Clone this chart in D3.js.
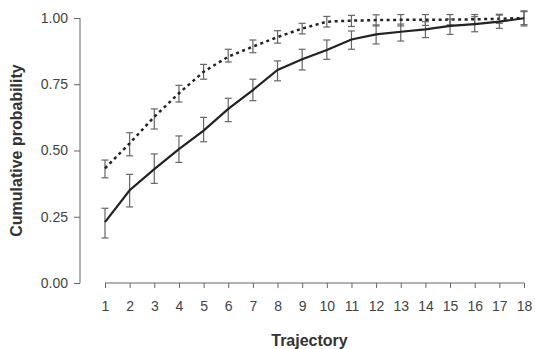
<!DOCTYPE html>
<html>
<head>
<meta charset="utf-8">
<script src="https://cdn.jsdelivr.net/npm/d3@7"></script>
<style>
  body { margin: 0; background: #fff; }
  svg { display: block; font-family: Arial, "Liberation Sans", sans-serif; }
</style>
</head>
<body>
<div id="chart"></div>
<script>
// ─── DATA ─────────────────────────────────────────────────────────────────────
const trajectories = [1, 2, 3, 4, 5, 6, 7, 8, 9, 10, 11, 12, 13, 14, 15, 16, 17, 18];
const yTicks = [0, 0.25, 0.5, 0.75, 1];

// solid series: mean, lower, upper
const solidMean  = [0.23, 0.35, 0.43, 0.505, 0.575, 0.657, 0.728, 0.804, 0.844, 0.879, 0.919, 0.938, 0.948, 0.957, 0.970, 0.977, 0.986, 0.999];
const solidLow   = [0.17, 0.287, 0.376, 0.455, 0.533, 0.609, 0.688, 0.763, 0.804, 0.844, 0.882, 0.902, 0.913, 0.926, 0.938, 0.948, 0.961, 0.97];
const solidHigh  = [0.282, 0.41, 0.487, 0.555, 0.625, 0.697, 0.769, 0.838, 0.882, 0.917, 0.951, 0.974, 0.977, 0.986, 0.996, 1.005, 1.011, 1.027];

// dashed series: mean, lower, upper
const dashMean   = [0.433, 0.527, 0.627, 0.716, 0.797, 0.854, 0.892, 0.928, 0.96, 0.986, 0.99, 0.992, 0.993, 0.993, 0.994, 0.995, 0.997, 1.0];
const dashLow    = [0.397, 0.48, 0.581, 0.683, 0.769, 0.834, 0.869, 0.905, 0.94, 0.966, 0.968, 0.97, 0.97, 0.972, 0.974, 0.976, 0.98, 0.975];
const dashHigh   = [0.464, 0.567, 0.657, 0.746, 0.825, 0.882, 0.917, 0.952, 0.98, 1.006, 1.01, 1.012, 1.013, 1.013, 1.013, 1.013, 1.014, 1.024];

// ─── LAYOUT ───────────────────────────────────────────────────────────────────
const W = 535, H = 349;
const svg = d3.select("#chart").append("svg").attr("width", W).attr("height", H);

const x = d3.scaleLinear().domain([1, 18]).range([105, 524]);
const y = d3.scaleLinear().domain([0, 1]).range([283, 18]);

const axisColor = "#666";
const textColor = "#444";

// y axis
const yAxis = svg.append("g")
  .attr("transform", "translate(80,0)")
  .call(d3.axisLeft(y).tickValues(yTicks).tickFormat(d3.format(".2f")).tickSize(6).tickPadding(6));
yAxis.select(".domain").attr("stroke", axisColor).attr("d", `M0,${y(0)}V${y(1)}`);
yAxis.selectAll(".tick line").attr("stroke", axisColor);
yAxis.selectAll(".tick text").attr("fill", textColor).style("font-size", "14px");

// x axis
const xAxis = svg.append("g")
  .attr("transform", `translate(0,${y(0)})`)
  .call(d3.axisBottom(x).tickValues(trajectories).tickFormat(d3.format("d")).tickSize(5).tickPadding(13));
xAxis.select(".domain").attr("stroke", axisColor).attr("d", `M${x(1)},0H${x(18)}`);
xAxis.selectAll(".tick line").attr("stroke", axisColor);
xAxis.selectAll(".tick text").attr("fill", textColor).style("font-size", "14px");

// axis titles
svg.append("text")
  .attr("x", (x(1) + x(18)) / 2 - 5)
  .attr("y", 346)
  .attr("text-anchor", "middle")
  .style("font-size", "16px")
  .style("font-weight", "bold")
  .attr("fill", "#333")
  .text("Trajectory");

svg.append("text")
  .attr("transform", `translate(22,${(y(0) + y(1)) / 2}) rotate(-90)`)
  .attr("text-anchor", "middle")
  .style("font-size", "16px")
  .style("font-weight", "bold")
  .attr("fill", "#333")
  .text("Cumulative probability");

// ─── SERIES ───────────────────────────────────────────────────────────────────
function drawSeries(mean, low, high, dash) {
  const rows = trajectories.map((t, i) => ({ t, m: mean[i], lo: low[i], hi: high[i] }));
  const g = svg.append("g");
  const cap = 3.5;

  const bars = g.selectAll(".err").data(rows).enter().append("g").attr("stroke", "#666").attr("stroke-width", 1.2);
  bars.append("line")
    .attr("x1", d => x(d.t)).attr("x2", d => x(d.t))
    .attr("y1", d => y(d.lo)).attr("y2", d => y(d.hi));
  bars.append("line")
    .attr("x1", d => x(d.t) - cap).attr("x2", d => x(d.t) + cap)
    .attr("y1", d => y(d.lo)).attr("y2", d => y(d.lo));
  bars.append("line")
    .attr("x1", d => x(d.t) - cap).attr("x2", d => x(d.t) + cap)
    .attr("y1", d => y(d.hi)).attr("y2", d => y(d.hi));

  const line = d3.line().x(d => x(d.t)).y(d => y(d.m));
  g.append("path")
    .datum(rows)
    .attr("d", line)
    .attr("fill", "none")
    .attr("stroke", "#222")
    .attr("stroke-width", dash ? 2.5 : 2.2)
    .attr("stroke-dasharray", dash ? "3,3.5" : null);
}

drawSeries(dashMean, dashLow, dashHigh, true);
drawSeries(solidMean, solidLow, solidHigh, false);
</script>
</body>
</html>
